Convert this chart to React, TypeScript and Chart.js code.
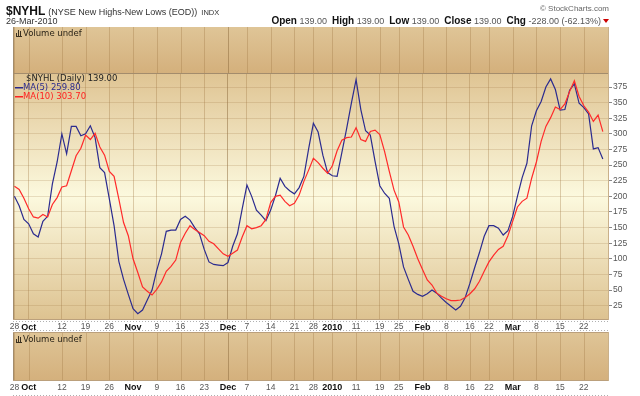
import React, { useEffect, useRef } from 'react';
import { Chart, registerables } from 'chart.js';
Chart.register(...registerables);

// MA(5) of $NYHL, one value per trading day, 28-Sep-2009 .. 26-Mar-2010
const ma5 = [
  200, 185, 163, 156, 140, 135, 160, 168, 220, 255,
  300, 268, 312, 312, 297, 300, 313, 294, 246, 238,
  196, 153, 96, 67, 43, 20, 12, 18, 34, 50,
  82, 108, 144, 146, 146, 163, 168, 162, 150, 140,
  115, 95, 91, 90, 89, 94, 120, 140, 180, 218,
  200, 178, 170, 161, 178, 201, 229, 216, 209, 204,
  214, 232, 276, 317, 303, 266, 238, 233, 232, 270,
  308, 349, 387, 339, 305, 298, 256, 217, 205, 197,
  152, 124, 87, 67, 48, 43, 40, 44, 50, 45,
  37, 30, 24, 18, 24, 38, 61, 86, 110, 136,
  153, 153, 149, 138, 145, 168, 200, 230, 253, 313,
  337, 352, 375, 388, 371, 338, 339, 370, 380, 349,
  342, 332, 276, 278, 259.8,
];

// MA(10)
const ma10 = [
  216, 211, 197, 180, 167, 165, 171, 167, 187, 198,
  215, 217, 241, 265, 277, 298, 291, 301, 279, 266,
  240, 232, 196, 158, 137, 100, 78, 55, 48, 42,
  51, 63, 80, 88, 98, 126, 141, 153, 147, 142,
  137, 128, 124, 116, 108, 104, 109, 114, 135, 153,
  148, 150, 153, 163, 190, 200, 202, 192, 185, 189,
  202, 224, 242, 261, 254, 245, 237, 249, 273, 290,
  294, 295, 310, 291, 288, 304, 306, 299, 272, 240,
  210, 191, 151, 138, 120, 100, 83, 66, 58, 45,
  40, 36, 33, 33, 34, 38, 44, 52, 64, 80,
  95, 106, 115, 120, 137, 160, 183, 192, 197, 229,
  255, 288, 312, 326, 343, 339, 348, 368, 385, 360,
  345, 335, 320, 330, 303.7,
];

// date ticks (trading-day index) and their labels
const tickIndex = [0, 3, 10, 15, 20, 25, 30, 35, 40, 45, 49, 54, 59, 63, 67, 72, 77, 81, 86, 91, 96, 100, 105, 110, 115, 120];
const tickLabels = ['28', 'Oct', '12', '19', '26', 'Nov', '9', '16', '23', 'Dec', '7', '14', '21', '28', '2010', '11', '19', '25', 'Feb', '8', '16', '22', 'Mar', '8', '15', '22'];
const boldLabels = ['Oct', 'Nov', 'Dec', '2010', 'Feb', 'Mar'];
const yTicks = [25, 50, 75, 100, 125, 150, 175, 200, 225, 250, 275, 300, 325, 350, 375];

const headerStats: [string, string][] = [
  ['Open', '139.00'], ['High', '139.00'], ['Low', '139.00'], ['Close', '139.00'], ['Chg', '-228.00 (-62.13%)'],
];

const SANS = '"Liberation Sans", Arial, sans-serif';
const VERD = '"DejaVu Sans", Verdana, sans-serif';

const labelAt = (v: number) => {
  const k = tickIndex.indexOf(v);
  return k >= 0 ? tickLabels[k] : null;
};

const VOL_TOP = 27;
const VOL2_TOP = 332;
const VOL2_BOT = 381;

function volumePanel(ctx: CanvasRenderingContext2D, l: number, t: number, r: number, b: number) {
  const g = ctx.createLinearGradient(0, t, 0, b);
  g.addColorStop(0, '#dfc597');
  g.addColorStop(1, '#d4b07c');
  ctx.fillStyle = g;
  ctx.fillRect(l, t, r - l, b - t);
}

function volumeLabel(ctx: CanvasRenderingContext2D, x: number, y: number) {
  ctx.fillStyle = '#3a3020';
  ctx.fillRect(x, y - 2, 1, 3);
  ctx.fillRect(x + 2, y - 5, 1, 6);
  ctx.fillRect(x + 4, y - 4, 1, 5);
  ctx.fillRect(x, y + 1, 6, 1);
  ctx.font = `8.5px ${VERD}`;
  ctx.fillStyle = '#2a2418';
  ctx.textAlign = 'left';
  ctx.textBaseline = 'alphabetic';
  ctx.fillText('Volume undef', x + 7, y + 1);
}

const bgPlugin = {
  id: 'stockBg',
  beforeDraw(chart: any) {
    const { ctx, chartArea: a } = chart;
    ctx.save();
    ctx.fillStyle = '#ffffff';
    ctx.fillRect(0, 0, chart.width, chart.height);
    volumePanel(ctx, a.left, VOL_TOP, a.right, a.top);
    const g = ctx.createLinearGradient(0, a.top, 0, a.bottom);
    g.addColorStop(0, '#dfc493');
    g.addColorStop(0.5, '#fcf9de');
    g.addColorStop(1, '#ddc290');
    ctx.fillStyle = g;
    ctx.fillRect(a.left, a.top, a.right - a.left, a.bottom - a.top);
    volumePanel(ctx, a.left, VOL2_TOP, a.right, VOL2_BOT);
    ctx.restore();
  },
  afterDraw(chart: any) {
    const { ctx, chartArea: a } = chart;
    const xs = chart.scales.x;
    ctx.save();
    // vertical grid in volume panels
    ctx.lineWidth = 1;
    tickIndex.forEach((v) => {
      const px = Math.round(xs.getPixelForValue(v)) + 0.5;
      ctx.strokeStyle = v === 45 ? 'rgba(140,105,60,0.5)' : 'rgba(160,120,70,0.35)';
      ctx.beginPath();
      ctx.moveTo(px, VOL_TOP); ctx.lineTo(px, a.top);
      ctx.moveTo(px, VOL2_TOP); ctx.lineTo(px, VOL2_BOT);
      ctx.stroke();
    });
    // panel borders
    ctx.strokeStyle = '#a38c6c';
    ctx.beginPath();
    ctx.moveTo(a.left + 0.5, VOL_TOP); ctx.lineTo(a.left + 0.5, a.bottom);
    ctx.moveTo(a.left + 0.5, VOL2_TOP); ctx.lineTo(a.left + 0.5, VOL2_BOT);
    ctx.moveTo(a.left, Math.round(a.top) + 0.5); ctx.lineTo(a.right, Math.round(a.top) + 0.5);
    ctx.stroke();
    ctx.strokeStyle = '#bba07c';
    ctx.beginPath();
    ctx.moveTo(a.left, Math.round(a.bottom) - 0.5); ctx.lineTo(a.right, Math.round(a.bottom) - 0.5);
    ctx.moveTo(a.left, VOL2_BOT - 0.5); ctx.lineTo(a.right, VOL2_BOT - 0.5);
    ctx.moveTo(a.left, VOL2_TOP + 0.5); ctx.lineTo(a.right, VOL2_TOP + 0.5);
    ctx.stroke();
    ctx.strokeStyle = '#c9b08a';
    ctx.beginPath();
    ctx.moveTo(a.right - 0.5, VOL_TOP); ctx.lineTo(a.right - 0.5, a.bottom);
    ctx.moveTo(a.right - 0.5, VOL2_TOP); ctx.lineTo(a.right - 0.5, VOL2_BOT);
    ctx.stroke();
    // dotted date strips
    ctx.strokeStyle = '#b0b0b0';
    ctx.setLineDash([1, 2]);
    ctx.beginPath();
    [a.bottom + 1.5, VOL2_TOP - 1.5, 395.5].forEach((y) => {
      ctx.moveTo(a.left, y); ctx.lineTo(a.right, y);
    });
    ctx.stroke();
    ctx.setLineDash([]);

    // bottom date labels
    ctx.textAlign = 'center';
    ctx.textBaseline = 'middle';
    tickIndex.forEach((v, k) => {
      const lab = tickLabels[k];
      const b = boldLabels.includes(lab);
      ctx.font = b ? `bold 9px ${SANS}` : `8.5px ${SANS}`;
      ctx.fillStyle = b ? '#111' : '#555';
      ctx.fillText(lab, xs.getPixelForValue(v), 388);
    });

    // volume labels
    volumeLabel(ctx, a.left + 3, VOL_TOP + 8);
    volumeLabel(ctx, a.left + 3, VOL2_TOP + 9);

    // in-panel legend
    ctx.textAlign = 'left';
    ctx.textBaseline = 'middle';
    ctx.font = `8.5px ${VERD}`;
    ctx.fillStyle = '#222';
    ctx.fillText('$NYHL (Daily) 139.00', 26, 79);
    ctx.fillStyle = '#2a2a8c';
    ctx.fillRect(15, 87, 8, 1.5);
    ctx.fillText('MA(5) 259.80', 23, 88);
    ctx.fillStyle = '#ff2020';
    ctx.fillRect(15, 96, 8, 1.5);
    ctx.fillText('MA(10) 303.70', 23, 97);

    // header
    ctx.textBaseline = 'alphabetic';
    ctx.font = `bold 12px ${SANS}`;
    ctx.fillStyle = '#111';
    ctx.fillText('$NYHL', 6, 15);
    const w = ctx.measureText('$NYHL').width;
    ctx.font = `9px ${SANS}`;
    ctx.fillStyle = '#333';
    ctx.fillText('(NYSE New Highs-New Lows (EOD))', 6 + w + 3, 15);
    const w2 = ctx.measureText('(NYSE New Highs-New Lows (EOD))').width;
    ctx.font = `7.5px ${SANS}`;
    ctx.fillText('INDX', 6 + w + 3 + w2 + 4, 15);
    ctx.font = `9px ${SANS}`;
    ctx.fillStyle = '#333';
    ctx.fillText('26-Mar-2010', 6, 24);

    ctx.font = `8px ${SANS}`;
    ctx.fillStyle = '#666';
    ctx.textAlign = 'right';
    ctx.fillText('© StockCharts.com', 609, 11);

    // right header stats
    ctx.textAlign = 'left';
    const parts: [string, boolean][] = [];
    headerStats.forEach(([k, v], i) => {
      parts.push([k, true]);
      parts.push([' ' + v + (i < headerStats.length - 1 ? '  ' : ''), false]);
    });
    const fontOf = (b: boolean) => (b ? `bold 10px ${SANS}` : `9px ${SANS}`);
    let total = 0;
    parts.forEach(([t, b]) => { ctx.font = fontOf(b); total += ctx.measureText(t).width; });
    let x = 601 - total;
    parts.forEach(([t, b]) => {
      ctx.font = fontOf(b);
      ctx.fillStyle = b ? '#111' : '#555';
      ctx.fillText(t, x, 24);
      x += ctx.measureText(t).width;
    });
    ctx.fillStyle = '#cc0000';
    ctx.beginPath();
    ctx.moveTo(603, 19); ctx.lineTo(609, 19); ctx.lineTo(606, 23); ctx.closePath();
    ctx.fill();
    ctx.restore();
  },
};

export default function App() {
  const ref = useRef<HTMLCanvasElement>(null);
  useEffect(() => {
    if (!ref.current) return;
    const chart = new Chart(ref.current, {
      type: 'line',
      data: {
        datasets: [
          {
            label: 'MA(10)',
            data: ma10.map((v, i) => ({ x: i, y: v })),
            borderColor: '#ff2a2a',
            borderWidth: 1.2,
          },
          {
            label: 'MA(5)',
            data: ma5.map((v, i) => ({ x: i, y: v })),
            borderColor: '#2b2b8f',
            borderWidth: 1.2,
          },
        ],
      },
      options: {
        animation: false,
        responsive: false,
        layout: { padding: { top: 73, left: 13, right: 0, bottom: 64 } },
        elements: { point: { radius: 0 }, line: { tension: 0 } },
        plugins: { legend: { display: false }, tooltip: { enabled: false } },
        scales: {
          x: {
            type: 'linear',
            min: -0.3,
            max: 125.3,
            afterBuildTicks: (s: any) => { s.ticks = tickIndex.map((v) => ({ value: v })); },
            afterFit: (s: any) => { s.height = 12; },
            border: { display: false },
            grid: {
              drawTicks: false,
              color: (c: any) => (c.tick && c.tick.value === 45 ? 'rgba(140,105,60,0.5)' : 'rgba(160,120,70,0.35)'),
            },
            ticks: {
              autoSkip: false,
              maxRotation: 0,
              padding: 2,
              callback: (v: any) => labelAt(Number(v)),
              font: (c: any) => {
                const lab = c.tick ? labelAt(c.tick.value) : '';
                return boldLabels.includes(lab as string)
                  ? { family: SANS, size: 9, weight: 'bold' }
                  : { family: SANS, size: 8.5 };
              },
              color: (c: any) => {
                const lab = c.tick ? labelAt(c.tick.value) : '';
                return boldLabels.includes(lab as string) ? '#111' : '#555';
              },
            },
          },
          y: {
            type: 'linear',
            position: 'right',
            min: 2,
            max: 397.5,
            afterBuildTicks: (s: any) => { s.ticks = yTicks.map((v) => ({ value: v })); },
            afterFit: (s: any) => { s.width = 31; },
            border: { display: false },
            grid: { color: 'rgba(160,120,70,0.22)', tickLength: 3, tickColor: '#888' },
            ticks: {
              padding: 1,
              color: '#555',
              font: { family: SANS, size: 8.5 },
              callback: (v: any) => String(v),
            },
          },
        },
      },
      plugins: [bgPlugin],
    } as any);
    return () => chart.destroy();
  }, []);
  return (
    <div style={{ position: 'absolute', left: 0, top: 0, width: 640, height: 396 }}>
      <canvas ref={ref} width={640} height={396} style={{ display: 'block', width: 640, height: 396 }} />
    </div>
  );
}
